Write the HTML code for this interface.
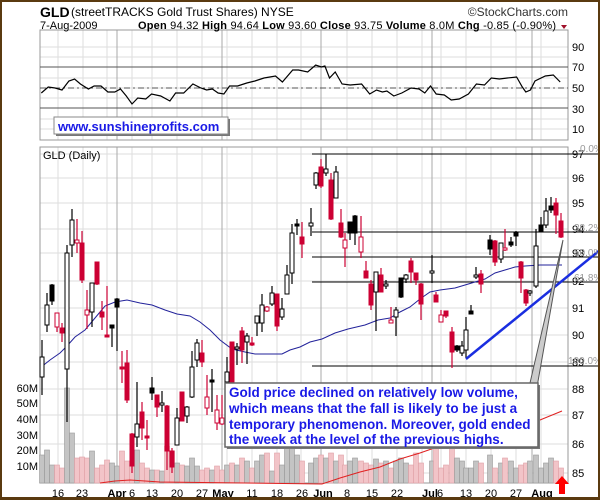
<!DOCTYPE html>
<html><head><meta charset="utf-8"><style>
html,body{margin:0;padding:0;background:#fff}
svg{display:block;font-family:"Liberation Sans",sans-serif}
</style></head><body>
<svg id="c" width="600" height="500" viewBox="0 0 600 500" xmlns="http://www.w3.org/2000/svg">
<rect x="0" y="0" width="600" height="500" fill="#fff"/>
<g id="grid"></g>
<rect x="40" y="30" width="528" height="110" fill="none" stroke="#999" stroke-width="1"/>
<line x1="40" y1="67" x2="568" y2="67" stroke="#555" stroke-width="1"/>
<line x1="40" y1="108" x2="568" y2="108" stroke="#555" stroke-width="1"/>
<line x1="40" y1="88" x2="568" y2="88" stroke="#555" stroke-width="1" stroke-dasharray="6,3,2,3"/>
<g font-size="11" fill="#000">
<text x="572" y="51">90</text><text x="572" y="71">70</text><text x="572" y="92">50</text><text x="572" y="113">30</text><text x="572" y="133">10</text>
</g>
<polyline id="rsi" fill="none" stroke="#000" stroke-width="1.2"/>
<rect x="40" y="147" width="528" height="336" fill="none" stroke="#999" stroke-width="1"/>
<g id="vol"></g>
<g stroke="#000" stroke-width="1">
<line x1="312" y1="154" x2="600" y2="154"/>
<line x1="312" y1="232" x2="600" y2="232"/>
<line x1="312" y1="257" x2="600" y2="257"/>
<line x1="312" y1="282" x2="600" y2="282"/>
<line x1="312" y1="366" x2="600" y2="366"/>
</g>
<polyline id="ma50" fill="none" stroke="#22229a" stroke-width="1"/>
<polyline id="ma200" fill="none" stroke="#e02020" stroke-width="1"/>
<g id="candles"></g>
<line x1="466" y1="359" x2="600" y2="250" stroke="#1a2ee0" stroke-width="2.5"/>
<g font-size="11" fill="#000">
<text x="572" y="158">97</text><text x="572" y="182">96</text><text x="572" y="207">95</text><text x="572" y="233">94</text><text x="572" y="257">93</text><text x="572" y="285">92</text><text x="572" y="312">91</text><text x="572" y="339">90</text><text x="572" y="366">89</text><text x="572" y="393">88</text><text x="572" y="419">87</text><text x="572" y="448">86</text><text x="572" y="477">85</text>
</g>
<g font-size="10" fill="#999">
<text x="580" y="152">0.0%</text><text x="574" y="231">38.2%</text><text x="574" y="256">50.0%</text><text x="574" y="281">61.8%</text><text x="568" y="364">100.0%</text>
</g>
<g font-size="11" fill="#000" text-anchor="end">
<text x="38" y="392">60M</text><text x="38" y="407">50M</text><text x="38" y="423">40M</text><text x="38" y="439">30M</text><text x="38" y="454">20M</text><text x="38" y="470">10M</text>
</g>
<text x="43" y="159" font-size="11">GLD (Daily)</text>
<g font-size="11" fill="#000" text-anchor="middle">
<text x="58" y="497">16</text><text x="82" y="497">23</text><text x="117" y="497" font-weight="bold">Apr</text><text x="132" y="497">6</text><text x="152" y="497">13</text><text x="177" y="497">20</text><text x="202" y="497">27</text><text x="223" y="497" font-weight="bold">May</text><text x="252" y="497">11</text><text x="277" y="497">18</text><text x="302" y="497">26</text><text x="323" y="497" font-weight="bold">Jun</text><text x="347" y="497">8</text><text x="372" y="497">15</text><text x="397" y="497">22</text><text x="430" y="497" font-weight="bold">Jul</text><text x="440" y="497">6</text><text x="466" y="497">13</text><text x="491" y="497">20</text><text x="516" y="497">27</text><text x="542" y="497" font-weight="bold">Aug</text>
</g>
<polygon points="530,383 537,387 563,240" fill="#ccc" stroke="#555" stroke-width="1"/>
<rect x="227" y="385" width="313" height="64" fill="#777"/>
<rect x="225" y="383" width="313" height="64" fill="#fff" stroke="#666" stroke-width="1.5"/>
<g font-size="13.5" font-weight="bold" fill="#1a1ae6">
<text x="229" y="397">Gold price declined on relatively low volume,</text>
<text x="229" y="413">which means that the fall is likely to be just a</text>
<text x="229" y="429">temporary phenomenon. Moreover, gold ended</text>
<text x="229" y="444">the week at the level of the previous highs.</text>
</g>
<rect x="56" y="119" width="174" height="17" fill="#777"/>
<rect x="54" y="117" width="174" height="17" fill="#fff" stroke="#888" stroke-width="1"/>
<text x="58" y="131" font-size="13" font-weight="bold" fill="#1a1ae6">www.sunshineprofits.com</text>
<text x="40" y="17" font-size="14" font-weight="bold">GLD</text>
<text x="71" y="16" font-size="12">(streetTRACKS Gold Trust Shares) NYSE</text>
<text x="568" y="16" font-size="12" text-anchor="end" fill="#333">©StockCharts.com</text>
<g font-size="11">
<text x="40" y="29">7-Aug-2009</text>
<text x="138" y="29" textLength="418" lengthAdjust="spacing"><tspan font-weight="bold">Open</tspan> 94.32 <tspan font-weight="bold">High</tspan> 94.64 <tspan font-weight="bold">Low</tspan> 93.60 <tspan font-weight="bold">Close</tspan> 93.75 <tspan font-weight="bold">Volume</tspan> 8.0M <tspan font-weight="bold">Chg</tspan> -0.85 (-0.90%)</text>
</g>
<polygon points="561,25 567,25 564,29" fill="#a0102a"/>
<polygon points="562,476 569,484 565,484 565,494 559,494 559,484 555,484" fill="#f00"/>
<rect x="1" y="1" width="598" height="497" fill="none" stroke="#5a3a10" stroke-width="2"/>
<line x1="0" y1="498.5" x2="600" y2="498.5" stroke="#5a3a10" stroke-width="3"/>
</svg>
<script>
var NS="http://www.w3.org/2000/svg";
function el(p,t,a){var e=document.createElementNS(NS,t);for(var k in a)e.setAttribute(k,a[k]);p.appendChild(e);return e;}
var g=document.getElementById("grid");
[47,57,67,78,88,98,108,119,129].forEach(function(y){el(g,"line",{x1:40,x2:568,y1:y,y2:y,stroke:"#ddd"});});
[154,178,203,229,253,281,308,335,362,389,415,444,473].forEach(function(y){el(g,"line",{x1:40,x2:568,y1:y,y2:y,stroke:"#ddd"});});
[58,83,107,132,152,177,202,227,252,277,301,347,372,397,422,441,466,491,516,541].forEach(function(x){
el(g,"line",{x1:x,x2:x,y1:30,y2:140,stroke:"#ddd"});el(g,"line",{x1:x,x2:x,y1:147,y2:483,stroke:"#ddd"});});
[117,222,321,432,532].forEach(function(x){
el(g,"line",{x1:x,x2:x,y1:30,y2:140,stroke:"#aaa"});el(g,"line",{x1:x,x2:x,y1:147,y2:483,stroke:"#aaa"});});
var r=[[36,93],[42,87],[48,88],[54,90],[60,81],[65,79],[70,84],[77,89],[82,86],[88,86],[94,92],[100,92],[105,89],[110,96],[115,104],[120,98],[127,99],[132,94],[140,96],[148,101],[153,93],[160,93],[168,84],[175,88],[180,90],[185,89],[190,93],[195,94],[200,86],[207,86],[215,83],[222,81],[230,78],[240,76],[246,82],[255,70],[260,70],[268,72],[275,65],[280,67],[283,66],[287,78],[292,72],[298,84],[305,85],[315,84],[322,94],[328,90],[333,92],[337,91],[343,96],[350,93],[358,88],[365,89],[370,93],[375,86],[380,94],[387,95],[393,100],[400,99],[408,94],[415,84],[422,85],[428,78],[435,79],[442,78],[450,77],[455,87],[458,92],[462,90],[466,81],[475,76],[482,75],[488,82]];
document.getElementById("rsi").setAttribute("points",r.map(function(p){return (p[0]*1.148).toFixed(1)+","+p[1];}).join(" "));
var C=[[42,340,395,357,377,"w"],[47,293,332,305,325,"w"],[52,284,305,285,301,"b"],[57,313,332,313,327,"h"],[62,323,342,328,333,"r"],[67,245,422,253,369,"w"],[72,209,257,220,245,"w"],[77,219,253,240,243,"h"],[82,231,283,243,280,"r"],[87,290,329,310,315,"h"],[92,283,327,283,312,"w"],[97,262,285,262,284,"r"],[102,301,330,312,317,"r"],[107,286,336,335,337,"r"],[112,325,347,325,328,"b"],[117,298,351,299,307,"b"],[122,351,383,367,369,"r"],[127,350,403,363,400,"r"],[132,433,473,434,466,"r"],[137,382,447,424,437,"w"],[142,402,440,412,428,"r"],[147,420,450,436,438,"r"],[152,377,400,388,393,"b"],[157,395,417,395,407,"r"],[162,391,412,403,405,"w"],[167,405,470,406,451,"r"],[172,448,473,451,467,"r"],[177,408,445,418,445,"w"],[182,393,419,392,421,"r"],[187,406,423,407,416,"w"],[192,351,398,367,397,"w"],[197,339,367,343,360,"w"],[202,340,367,353,362,"r"],[207,375,415,397,408,"h"],[212,369,412,380,382,"b"],[217,395,430,410,423,"h"],[222,395,425,418,424,"h"],[227,357,420,372,382,"w"],[232,342,400,342,400,"r"],[237,343,365,347,349,"w"],[242,327,363,331,350,"r"],[247,333,364,336,342,"w"],[252,337,346,343,345,"r"],[257,316,336,316,323,"w"],[262,294,332,305,323,"w"],[267,306,312,307,311,"h"],[272,286,306,293,304,"w"],[277,294,331,294,326,"r"],[282,298,320,309,317,"w"],[287,265,294,275,294,"w"],[292,224,284,233,273,"w"],[297,219,235,224,226,"b"],[302,222,258,237,244,"r"],[311,208,236,223,226,"w"],[316,172,189,173,185,"w"],[321,159,188,167,186,"r"],[326,154,176,169,173,"w"],[331,173,220,180,219,"r"],[336,166,198,172,198,"w"],[341,209,238,223,237,"r"],[345,233,267,240,248,"h"],[350,222,240,222,233,"b"],[355,215,245,216,233,"b"],[361,216,258,237,252,"h"],[366,261,278,271,278,"r"],[371,280,310,284,305,"r"],[376,272,331,272,292,"w"],[381,268,290,275,292,"r"],[386,280,289,284,286,"w"],[391,307,323,320,323,"h"],[396,307,336,310,317,"w"],[401,278,298,278,297,"b"],[406,274,283,275,279,"w"],[411,258,283,261,272,"r"],[416,273,285,273,280,"r"],[421,283,320,284,304,"r"],[432,255,283,271,273,"w"],[436,292,302,295,302,"r"],[441,310,320,315,322,"h"],[446,311,318,311,316,"r"],[452,327,368,332,352,"r"],[457,345,352,346,350,"b"],[462,341,356,346,353,"w"],[466,317,358,330,350,"w"],[471,305,313,311,314,"b"],[476,267,279,275,277,"w"],[481,270,293,274,284,"r"],[490,235,255,240,249,"b"],[495,240,266,241,262,"r"],[501,243,263,243,259,"w"],[505,229,251,248,250,"h"],[511,237,247,242,245,"b"],[516,231,246,233,236,"b"],[521,261,293,262,278,"r"],[526,289,306,290,303,"r"],[530,290,296,291,293,"w"],[536,229,288,246,286,"w"],[541,217,231,225,232,"b"],[546,198,228,211,225,"w"],[551,197,213,206,210,"b"],[556,198,234,203,215,"r"],[561,213,238,221,237,"r"]];
var vh=[28,33,18,18,15,95,50,25,26,25,32,15,18,23,20,17,32,22,18,33,20,15,13,13,12,37,32,20,18,17,25,17,13,15,13,17,13,18,20,18,25,22,15,22,28,30,12,30,18,35,45,28,22,20,25,28,25,30,22,28,18,22,25,22,20,18,24,20,22,15,22,25,20,18,30,20,22,50,15,18,50,25,22,15,15,22,20,28,15,20,25,22,15,18,20,22,28,15,20,25,22,15,14,20,18,20,22,15];
var vg=document.getElementById("vol"),cg=document.getElementById("candles");
C.forEach(function(c,i){
var up=(c[5]=="w"||c[5]=="b");var h=vh[i]||18;
el(vg,"rect",{x:c[0]-2.5,y:483-h,width:5,height:h,fill:up?"#c4c4c4":"#f2c4c8",stroke:up?"#999":"#e0a0a6","stroke-width":0.6});
var col=(c[5]=="r"||c[5]=="h")?"#cc0033":"#000";
el(cg,"line",{x1:c[0],x2:c[0],y1:c[1],y2:c[2],stroke:col,"stroke-width":1.2});
var bh=Math.max(2,c[4]-c[3]);
var fill=c[5]=="w"||c[5]=="h"?"#fff":col;
el(cg,"rect",{x:c[0]-2,y:c[3],width:4,height:bh,fill:fill,stroke:col,"stroke-width":1});
});
document.getElementById("ma50").setAttribute("points","40,368 50,360 60,353 67,346 75,337 85,330 95,318 105,306 115,302 127,300 140,303 152,305 165,310 177,314 190,316 200,322 210,330 220,340 232,349 245,352 255,354 270,354 282,354 290,350 300,347 310,342 322,339 335,333 348,329 365,325 378,320 390,318 400,312 410,307 420,299 430,292 440,290 455,288 465,285 475,282 485,279 495,273 505,270 515,267 525,266 540,265 562,265");
document.getElementById("ma200").setAttribute("points","100,483 115,481 130,480 145,481 160,482 322,484 340,478 360,472 380,467 400,459 420,453 440,446 460,440 480,433 500,427 520,424 540,420 562,411");
</script>
</body></html>
